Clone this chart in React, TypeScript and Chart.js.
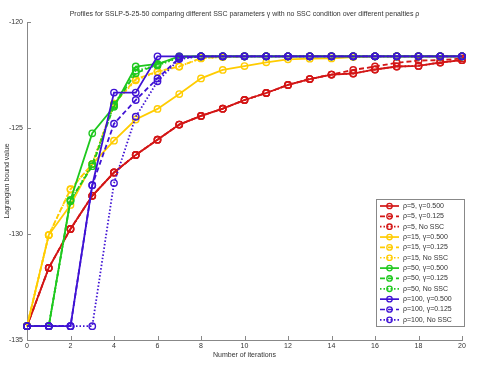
import React, { useEffect, useRef } from "react";
import { Chart, registerables } from "chart.js";
Chart.register(...registerables);

const chartTitle =
  "Profiles for SSLP-5-25-50 comparing different SSC parameters γ with no SSC condition over different penalties ρ";
const xAxisTitle = "Number of iterations";
const yAxisTitle = "Lagrangian bound value";

const iterations = [0, 1, 2, 3, 4, 5, 6, 7, 8, 9, 10, 11, 12, 13, 14, 15, 16, 17, 18, 19, 20];

const rho5_g500 = [-134.35, -131.6, -129.76, -128.2, -127.1, -126.27, -125.55, -124.84, -124.43, -124.09, -123.68, -123.35, -122.97, -122.69, -122.48, -122.43, -122.24, -122.1, -122.07, -121.91, -121.8];
const rho5_g125 = [-134.35, -131.6, -129.76, -128.2, -127.1, -126.27, -125.55, -124.84, -124.43, -124.09, -123.68, -123.35, -122.97, -122.69, -122.48, -122.26, -122.1, -121.92, -121.82, -121.8, -121.72];
const rho5_noSSC = [-134.35, -131.6, -129.76, -128.2, -127.1, -126.27, -125.55, -124.84, -124.43, -124.09, -123.68, -123.35, -122.97, -122.69, -122.48, -122.43, -122.24, -122.1, -122.07, -121.91, -121.8];

const rho15_g500 = [-134.35, -130.05, -128.63, -126.7, -125.6, -124.6, -124.1, -123.4, -122.66, -122.26, -122.08, -121.9, -121.76, -121.73, -121.72, -121.65, -121.62, -121.62, -121.62, -121.62, -121.62];
const rho15_g125 = [-134.35, -130.05, -127.88, -126.7, -123.85, -122.7, -122.33, -122.1, -121.7, -121.65, -121.62, -121.62, -121.62, -121.62, -121.62, -121.62, -121.62, -121.62, -121.62, -121.62, -121.62];
const rho15_noSSC = [-134.35, -130.05, -127.9, -126.7, -123.85, -122.75, -122.35, -122.1, -121.72, -121.65, -121.62, -121.62, -121.62, -121.62, -121.62, -121.62, -121.62, -121.62, -121.62, -121.62, -121.62];

const rho50_g500 = [-134.35, -134.35, -128.4, -125.25, -124.0, -122.1, -121.98, -121.62, -121.62, -121.62, -121.62, -121.62, -121.62, -121.62, -121.62, -121.62, -121.62, -121.62, -121.62, -121.62, -121.62];
const rho50_g125 = [-134.35, -134.35, -128.4, -126.8, -123.95, -122.42, -122.0, -121.65, -121.62, -121.62, -121.62, -121.62, -121.62, -121.62, -121.62, -121.62, -121.62, -121.62, -121.62, -121.62, -121.62];
const rho50_noSSC = [-134.35, -134.35, -128.45, -126.7, -123.9, -122.3, -122.05, -121.68, -121.62, -121.62, -121.62, -121.62, -121.62, -121.62, -121.62, -121.62, -121.62, -121.62, -121.62, -121.62, -121.62];

const rho100_g500 = [-134.35, -134.35, -134.35, -127.7, -123.33, -123.33, -121.62, -121.62, -121.62, -121.62, -121.62, -121.62, -121.62, -121.62, -121.62, -121.62, -121.62, -121.62, -121.62, -121.62, -121.62];
const rho100_g125 = [-134.35, -134.35, -134.35, -127.7, -124.8, -123.68, -122.66, -121.7, -121.62, -121.62, -121.62, -121.62, -121.62, -121.62, -121.62, -121.62, -121.62, -121.62, -121.62, -121.62, -121.62];
const rho100_noSSC = [-134.35, -134.35, -134.35, -134.35, -127.6, -124.47, -122.8, -121.75, -121.62, -121.62, -121.62, -121.62, -121.62, -121.62, -121.62, -121.62, -121.62, -121.62, -121.62, -121.62, -121.62];

const seriesLabels = [
  "ρ=5, γ=0.500", "ρ=5, γ=0.125", "ρ=5, No SSC",
  "ρ=15, γ=0.500", "ρ=15, γ=0.125", "ρ=15, No SSC",
  "ρ=50, γ=0.500", "ρ=50, γ=0.125", "ρ=50, No SSC",
  "ρ=100, γ=0.500", "ρ=100, γ=0.125", "ρ=100, No SSC",
];
const seriesValues = [
  rho5_g500, rho5_g125, rho5_noSSC,
  rho15_g500, rho15_g125, rho15_noSSC,
  rho50_g500, rho50_g125, rho50_noSSC,
  rho100_g500, rho100_g125, rho100_noSSC,
];

const RED = "#d31616";
const YELLOW = "#ffcc00";
const GREEN = "#1ec81e";
const BLUE = "#3f12d4";
const groupColors = [RED, YELLOW, GREEN, BLUE];
const styleDashes: number[][] = [[], [5, 3], [1.5, 2]];

const FONT = "'Liberation Sans', Arial, Helvetica, sans-serif";
const AXIS_COLOR = "#888888";
const TEXT_COLOR = "#333333";

const inwardTicks = {
  id: "inwardTicks",
  afterDraw(chart: any) {
    const { ctx, chartArea } = chart;
    const xs = chart.scales.x;
    const ys = chart.scales.y;
    ctx.save();
    ctx.strokeStyle = AXIS_COLOR;
    ctx.lineWidth = 1;
    ctx.beginPath();
    xs.ticks.forEach((t: any) => {
      const px = Math.round(xs.getPixelForValue(t.value)) + 0.5;
      ctx.moveTo(px, chartArea.bottom);
      ctx.lineTo(px, chartArea.bottom - 4);
    });
    ys.ticks.forEach((t: any) => {
      const py = Math.round(ys.getPixelForValue(t.value)) + 0.5;
      ctx.moveTo(chartArea.left, py);
      ctx.lineTo(chartArea.left + 4, py);
    });
    ctx.stroke();
    ctx.restore();
  },
};

const boxLegend = {
  id: "boxLegend",
  afterDraw(chart: any) {
    const { ctx, chartArea } = chart;
    const right = chartArea.right + 2;
    const left = right - 88;
    const bottom = chartArea.bottom - 14;
    const rowH = 10.35;
    const n = chart.data.datasets.length;
    const top = bottom - (n * rowH + 2.5);
    ctx.save();
    ctx.fillStyle = "#ffffff";
    ctx.fillRect(left, top, right - left, bottom - top);
    ctx.strokeStyle = AXIS_COLOR;
    ctx.lineWidth = 1;
    ctx.strokeRect(Math.round(left) + 0.5, Math.round(top) + 0.5, Math.round(right - left), Math.round(bottom - top));
    ctx.font = `7px ${FONT}`;
    ctx.textBaseline = "middle";
    ctx.textAlign = "left";
    chart.data.datasets.forEach((ds: any, i: number) => {
      const y = top + 6.7 + i * rowH;
      ctx.strokeStyle = ds.borderColor;
      ctx.lineWidth = 1.7;
      ctx.setLineDash(ds.borderDash || []);
      ctx.beginPath();
      ctx.moveTo(left + 4, y);
      ctx.lineTo(left + 23, y);
      ctx.stroke();
      ctx.setLineDash([]);
      ctx.lineWidth = 1.3;
      ctx.beginPath();
      ctx.arc(left + 13.5, y, 2.7, 0, Math.PI * 2);
      ctx.stroke();
      ctx.fillStyle = TEXT_COLOR;
      ctx.fillText(ds.label, left + 27, y);
    });
    ctx.restore();
  },
};

export default function App() {
  const canvasRef = useRef<HTMLCanvasElement | null>(null);

  useEffect(() => {
    if (!canvasRef.current) return;
    const datasets = seriesValues.map((vals, i) => {
      const color = groupColors[Math.floor(i / 3)];
      return {
        label: seriesLabels[i],
        data: iterations.map((x, k) => ({ x, y: vals[k] })),
        borderColor: color,
        backgroundColor: color,
        borderWidth: 1.8,
        borderDash: styleDashes[i % 3],
        pointRadius: 3.2,
        pointBorderWidth: 1.4,
        pointBackgroundColor: "rgba(0,0,0,0)",
        pointBorderColor: color,
        pointStyle: "circle",
        tension: 0,
        fill: false,
        clip: false as any,
        order: seriesValues.length - i,
      };
    });

    const chart = new Chart(canvasRef.current, {
      type: "line",
      data: { datasets },
      options: {
        animation: false,
        responsive: false,
        maintainAspectRatio: false,
        layout: { padding: { left: 0, right: 17, top: 0, bottom: 0 } },
        plugins: {
          legend: { display: false },
          tooltip: { enabled: false },
          title: {
            display: true,
            text: chartTitle,
            fullSize: false,
            color: TEXT_COLOR,
            font: { family: FONT, size: 7, weight: "normal" },
            padding: { top: 10, bottom: 3.6 },
          },
        },
        scales: {
          x: {
            type: "linear",
            min: 0,
            max: 20,
            grid: { display: false, drawTicks: false },
            border: { display: true, color: AXIS_COLOR, width: 1 },
            ticks: {
              stepSize: 2,
              color: TEXT_COLOR,
              padding: 2,
              maxRotation: 0,
              font: { family: FONT, size: 7 },
            },
            title: {
              display: true,
              text: xAxisTitle,
              color: TEXT_COLOR,
              font: { family: FONT, size: 7 },
              padding: { top: 0, bottom: 16.8 },
            },
            afterFit: (s: any) => {
              s.height = 36;
              s.paddingLeft = 0;
              s.paddingRight = 0;
            },
          },
          y: {
            type: "linear",
            min: -135,
            max: -120,
            grid: { display: false, drawTicks: false },
            border: { display: true, color: AXIS_COLOR, width: 1 },
            ticks: {
              stepSize: 5,
              color: TEXT_COLOR,
              padding: 4,
              font: { family: FONT, size: 7 },
            },
            title: {
              display: true,
              text: yAxisTitle,
              color: TEXT_COLOR,
              font: { family: FONT, size: 7 },
              padding: { top: 2.5, bottom: 0 },
            },
            afterFit: (s: any) => {
              s.width = 27;
              s.paddingTop = 0;
              s.paddingBottom = 0;
            },
          },
        },
      } as any,
      plugins: [inwardTicks, boxLegend],
    });
    return () => chart.destroy();
  }, []);

  return (
    <div style={{ position: "fixed", left: 0, top: 0, width: 479, height: 376, background: "#fff" }}>
      <canvas ref={canvasRef} width={479} height={376} style={{ display: "block", width: 479, height: 376 }} />
    </div>
  );
}
